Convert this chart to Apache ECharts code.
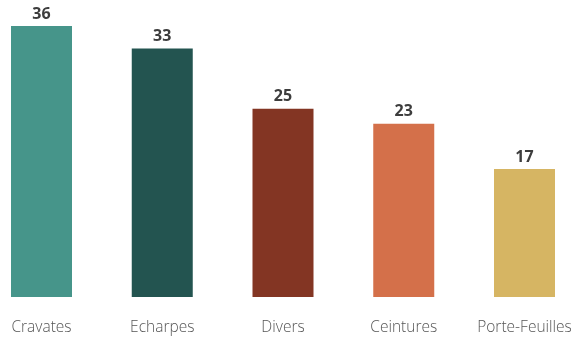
<!DOCTYPE html>
<html><head><meta charset="utf-8">
<script src="https://cdn.jsdelivr.net/npm/echarts@6/dist/echarts.min.js"></script>
<style>html,body{margin:0;padding:0;background:#fff}#c{width:579px;height:340px}</style>
</head><body><div id="c"></div>
<script>
const categories = ['Cravates','Echarpes','Divers','Ceintures','Porte-Feuilles'];
const values = [36, 33, 25, 23, 17];
const colors = ['#46958A','#235450','#833523','#D4704A','#D6B563'];
const chart = echarts.init(document.getElementById('c'));
chart.setOption({
  animation:false,
  grid:{left:41.5, right:54.5, top:26, bottom:43},
  xAxis:{type:'category', data:categories, boundaryGap:false,
    axisLine:{show:false}, axisTick:{show:false},
    axisLabel:{interval:0, hideOverlap:false, color:'#555', fontSize:15.5, fontFamily:'Open Sans', fontWeight:300, margin:23}},
  yAxis:{type:'value', min:0, max:36, show:false, splitLine:{show:false}},
  series:[{type:'bar', barWidth:61,
    data: values.map((v,i)=>({value:v, itemStyle:{color:colors[i]}})),
    label:{show:true, position:'top', distance:4, color:'#3d3d3d', fontSize:16, fontWeight:'bold', fontFamily:'Open Sans'}}]
});
</script></body></html>
